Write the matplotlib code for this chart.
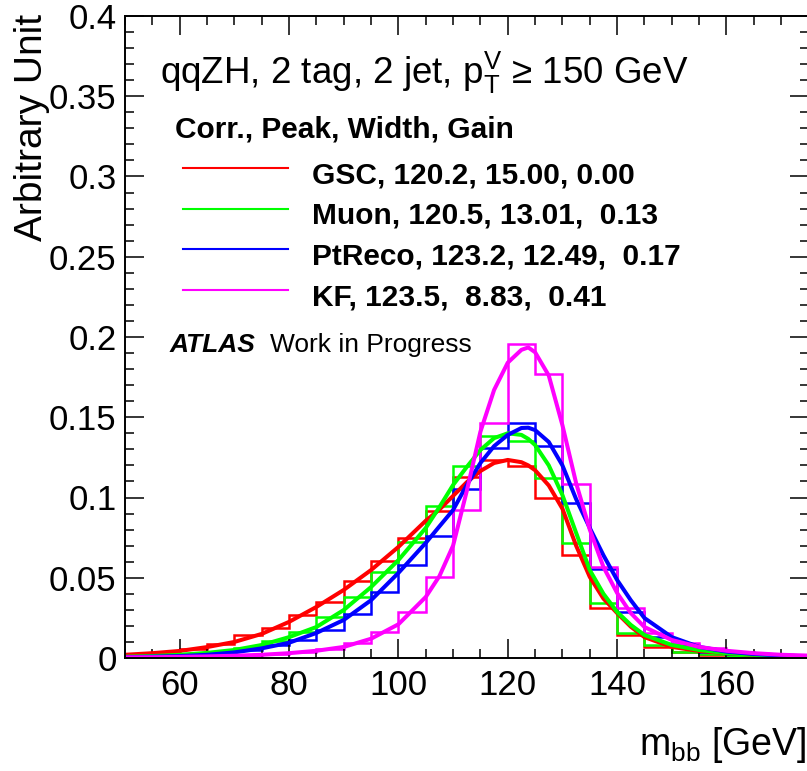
import numpy as np
import matplotlib
matplotlib.use("Agg")
import matplotlib.pyplot as plt
from matplotlib.lines import Line2D
from matplotlib.ticker import MultipleLocator, FuncFormatter

plt.rcParams['font.family'] = ['Liberation Sans', 'DejaVu Sans']
plt.rcParams['mathtext.fontset'] = 'custom'
plt.rcParams['mathtext.rm'] = 'Liberation Sans'
plt.rcParams['mathtext.it'] = 'Liberation Sans:italic'
plt.rcParams['mathtext.bf'] = 'Liberation Sans:bold'

# m_bb binning [GeV]
bin_edges = np.arange(50, 180, 5)

# normalised m_bb histograms, one per jet energy correction
hist_gsc = [0.0019, 0.0030, 0.0056, 0.0087, 0.0145, 0.0190, 0.0268, 0.0349, 0.0480, 0.0604,
            0.0748, 0.0916, 0.1128, 0.1234, 0.1196, 0.1000, 0.0642, 0.0312, 0.0143, 0.0069,
            0.0035, 0.0020, 0.0012, 0.0008, 0.0005]
hist_muon = [0.0008, 0.0013, 0.0020, 0.0037, 0.0060, 0.0109, 0.0162, 0.0255, 0.0380, 0.0536,
             0.0723, 0.0947, 0.1196, 0.1383, 0.1352, 0.1121, 0.0717, 0.0343, 0.0156, 0.0081,
             0.0037, 0.0022, 0.0014, 0.0009, 0.0006]
hist_ptreco = [0.0005, 0.0008, 0.0013, 0.0022, 0.0050, 0.0078, 0.0112, 0.0174, 0.0274, 0.0411,
               0.0580, 0.0760, 0.1053, 0.1308, 0.1464, 0.1321, 0.0966, 0.0555, 0.0287, 0.0130,
               0.0081, 0.0040, 0.0025, 0.0015, 0.0010]
hist_kf = [0.0003, 0.0005, 0.0007, 0.0010, 0.0015, 0.0025, 0.0037, 0.0056, 0.0093, 0.0162,
           0.0285, 0.0505, 0.0920, 0.1464, 0.1956, 0.1770, 0.1084, 0.0567, 0.0312, 0.0156,
           0.0093, 0.0062, 0.0035, 0.0022, 0.0015]

# fitted shapes
fit_x = [50, 55, 60, 65, 70, 75, 80, 85, 90, 95, 100, 105, 107.5, 110, 112.5, 115, 117.5,
         120, 122.5, 123.75, 125, 127.5, 130, 132.5, 135, 137.5, 140, 142.5, 145, 150, 155,
         160, 165, 170, 175]
fit_gsc = [0.0020, 0.0030, 0.0044, 0.0068, 0.0100, 0.0150, 0.0225, 0.0318, 0.0424, 0.0548,
           0.0692, 0.0855, 0.0925, 0.1010, 0.1095, 0.1165, 0.1215, 0.1234, 0.1220, 0.1200,
           0.1170, 0.1075, 0.0930, 0.0700, 0.0505, 0.0370, 0.0280, 0.0195, 0.0130, 0.0069,
           0.0044, 0.0030, 0.0020, 0.0015, 0.0010]
fit_muon = [0.0008, 0.0012, 0.0020, 0.0032, 0.0050, 0.0081, 0.0130, 0.0193, 0.0299, 0.0442,
            0.0610, 0.0810, 0.0940, 0.1078, 0.1190, 0.1296, 0.1370, 0.1400, 0.1390, 0.1365,
            0.1327, 0.1200, 0.1015, 0.0780, 0.0548, 0.0400, 0.0287, 0.0206, 0.0143, 0.0081,
            0.0050, 0.0030, 0.0020, 0.0013, 0.0009]
fit_ptreco = [0.0005, 0.0008, 0.0012, 0.0020, 0.0035, 0.0060, 0.0095, 0.0156, 0.0237, 0.0360,
              0.0530, 0.0717, 0.0820, 0.0922, 0.1078, 0.1215, 0.1320, 0.1390, 0.1433, 0.1435,
              0.1420, 0.1346, 0.1200, 0.0990, 0.0810, 0.0640, 0.0486, 0.0360, 0.0249, 0.0130,
              0.0069, 0.0040, 0.0025, 0.0016, 0.0010]
fit_kf = [0.0004, 0.0005, 0.0007, 0.0010, 0.0014, 0.0020, 0.0030, 0.0045, 0.0069, 0.0120,
          0.0210, 0.0380, 0.0510, 0.0700, 0.1040, 0.1410, 0.1670, 0.1840, 0.1920, 0.1935,
          0.1905, 0.1760, 0.1450, 0.1090, 0.0800, 0.0567, 0.0405, 0.0280, 0.0193, 0.0112,
          0.0069, 0.0045, 0.0030, 0.0020, 0.0015]

legend_header = "Corr., Peak, Width, Gain"
legend_labels = ["GSC, 120.2, 15.00, 0.00",
                 "Muon, 120.5, 13.01,  0.13",
                 "PtReco, 123.2, 12.49,  0.17",
                 "KF, 123.5,  8.83,  0.41"]
colors = ["#ff0000", "#00ff00", "#0000ff", "#ff00ff"]

W, H = 807, 771


def fx(px):
    return px / W


def fy(py):
    return 1 - py / H


fig = plt.figure(figsize=(W / 100, H / 100), dpi=100)
ax = fig.add_axes([fx(125), fy(658), (808.5 - 125) / W, (658 - 16) / H])

hists = [hist_gsc, hist_muon, hist_ptreco, hist_kf]
fits = [fit_gsc, fit_muon, fit_ptreco, fit_kf]
for h, f, c in zip(hists, fits, colors):
    ax.stairs(h, bin_edges, color=c, lw=1.8, baseline=0)
    ax.plot(fit_x, f, color=c, lw=2.9, solid_capstyle='butt', solid_joinstyle='round')

ax.set_xlim(50, 175)
ax.set_ylim(0, 0.4)

ax.xaxis.set_major_locator(MultipleLocator(20))
ax.xaxis.set_minor_locator(MultipleLocator(5))
ax.yaxis.set_major_locator(MultipleLocator(0.05))
ax.yaxis.set_minor_locator(MultipleLocator(0.01))
ax.yaxis.set_major_formatter(FuncFormatter(lambda v, p: '%g' % round(v, 3)))
ax.tick_params(which='both', direction='in', top=True, right=True, labelsize=25, width=1.1)
ax.tick_params(which='major', length=14)
ax.tick_params(which='minor', length=6.5)
ax.tick_params(axis='y', pad=6)
ax.tick_params(axis='x', pad=8)
for s in ax.spines.values():
    s.set_linewidth(1.4)

# axis titles
fig.text(fx(42), fy(14), "Arbitrary Unit", fontsize=28, rotation=90,
         ha='right', va='baseline', rotation_mode='anchor')
fig.text(fx(806), fy(755), r"$\mathregular{m_{bb}}$ [GeV]", fontsize=27,
         ha='right', va='baseline')

# region label
fig.text(fx(160), fy(84), r"qqZH, 2 tag, 2 jet, $\mathregular{p_{T}^{V}}$ ≥ 150 GeV",
         fontsize=26.5, va='baseline')

# legend
fig.text(fx(175), fy(137), legend_header, fontsize=21.5, fontweight='bold', va='baseline')
for i, (lab, c) in enumerate(zip(legend_labels, colors)):
    yl = 168 + i * 40.7
    fig.add_artist(Line2D([fx(183), fx(288)], [fy(yl), fy(yl)], color=c, lw=1.5,
                          transform=fig.transFigure))
    fig.text(fx(312), fy(183 + i * 40.7), lab, fontsize=21.5, fontweight='bold',
             va='baseline')

fig.text(fx(170), fy(352), "ATLAS", fontsize=19, fontweight='bold', fontstyle='italic',
         va='baseline')
fig.text(fx(270), fy(352), "Work in Progress", fontsize=19, va='baseline')

fig.savefig("out.png", dpi=100)
